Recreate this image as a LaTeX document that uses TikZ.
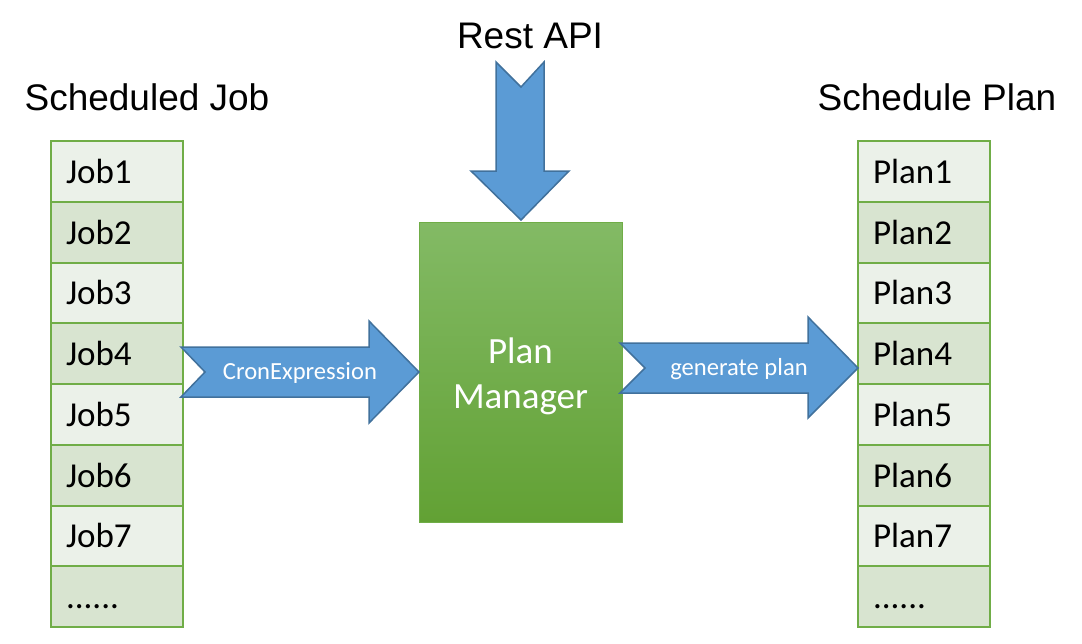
\documentclass[tikz,border=0pt]{standalone}
\usepackage{fontspec}
\setmainfont{Carlito}
\newfontfamily\arialfont{Liberation Sans}
\definecolor{rowlight}{RGB}{235,241,233}
\definecolor{rowdark}{RGB}{216,228,208}
\definecolor{rowborder}{RGB}{112,173,71}
\definecolor{arrowfill}{RGB}{91,155,213}
\definecolor{arrowline}{RGB}{65,113,156}
\definecolor{pmtop}{RGB}{131,186,101}
\definecolor{pmbottom}{RGB}{98,161,52}
\newcommand\mysixdots{......}
\begin{document}
\begin{tikzpicture}[x=1pt,y=-1pt,
  rowcell/.style={draw=rowborder, line width=2pt, minimum width=132pt, minimum height=60.75pt,
    inner xsep=15pt, inner ysep=0pt, text width=102pt, align=left, text height=24pt, text depth=0pt,
    font=\fontsize{35}{40}\selectfont},
  lightrow/.style={rowcell, fill=rowlight},
  darkrow/.style={rowcell, fill=rowdark},
  title/.style={font=\arialfont\fontsize{37}{42}\selectfont, anchor=base, inner sep=0pt},
  blockarrow/.style={fill=arrowfill, draw=arrowline, line width=1.5pt, line join=miter},
  arrowtext/.style={text=white, font=\fontsize{24.6}{28}\selectfont, inner sep=0pt}
]
\useasboundingbox (0,0) rectangle (1082,643);

% titles
\node[title] (tjob) at (147,110) {Scheduled Job};
\node[title] (tplan) at (937,110) {Schedule Plan};
\node[title] (trest) at (530,48) {Rest API};

% left column
\foreach \i/\t/\s in {1/Job1/lightrow,2/Job2/darkrow,3/Job3/lightrow,4/Job4/darkrow,5/Job5/lightrow,6/Job6/darkrow,7/Job7/lightrow,8/\mysixdots/darkrow}{
  \node[\s] (job\i) at (117, {141+60.75*(\i-0.5)}) {\t};
}
% right column
\foreach \i/\t/\s in {1/Plan1/lightrow,2/Plan2/darkrow,3/Plan3/lightrow,4/Plan4/darkrow,5/Plan5/lightrow,6/Plan6/darkrow,7/Plan7/lightrow,8/\mysixdots/darkrow}{
  \node[\s] (plan\i) at (924, {141+60.75*(\i-0.5)}) {\t};
}

% plan manager
\node[draw=rowborder, line width=1pt, top color=pmtop, bottom color=pmbottom,
  minimum width=203pt, minimum height=300pt, inner sep=0pt] (pm) at (520.5,372) {};
\node[text=white, font=\fontsize{37}{45}\selectfont, align=center, inner sep=0pt] (pmtext) at (520.5,376.5) {Plan\\Manager};

% Rest API arrow
\draw[blockarrow] (496,62) -- (521,87) -- (544,62) -- (544,171) -- (569,171) -- (521,220) -- (471,171) -- (496,171) -- cycle;

% CronExpression arrow
\draw[blockarrow] (181,347) -- (369,347) -- (369,321) -- (419,372) -- (369,423) -- (369,397) -- (181,397) -- (205,372) -- cycle;
\node[arrowtext] (cron) at (300,373.5) {CronExpression};

% generate plan arrow
\draw[blockarrow] (620,343) -- (808,343) -- (808,317) -- (858,368) -- (808,418) -- (808,393) -- (620,393) -- (645,368) -- cycle;
\node[arrowtext] (gen) at (739,369.5) {generate plan};
\end{tikzpicture}
\end{document}
